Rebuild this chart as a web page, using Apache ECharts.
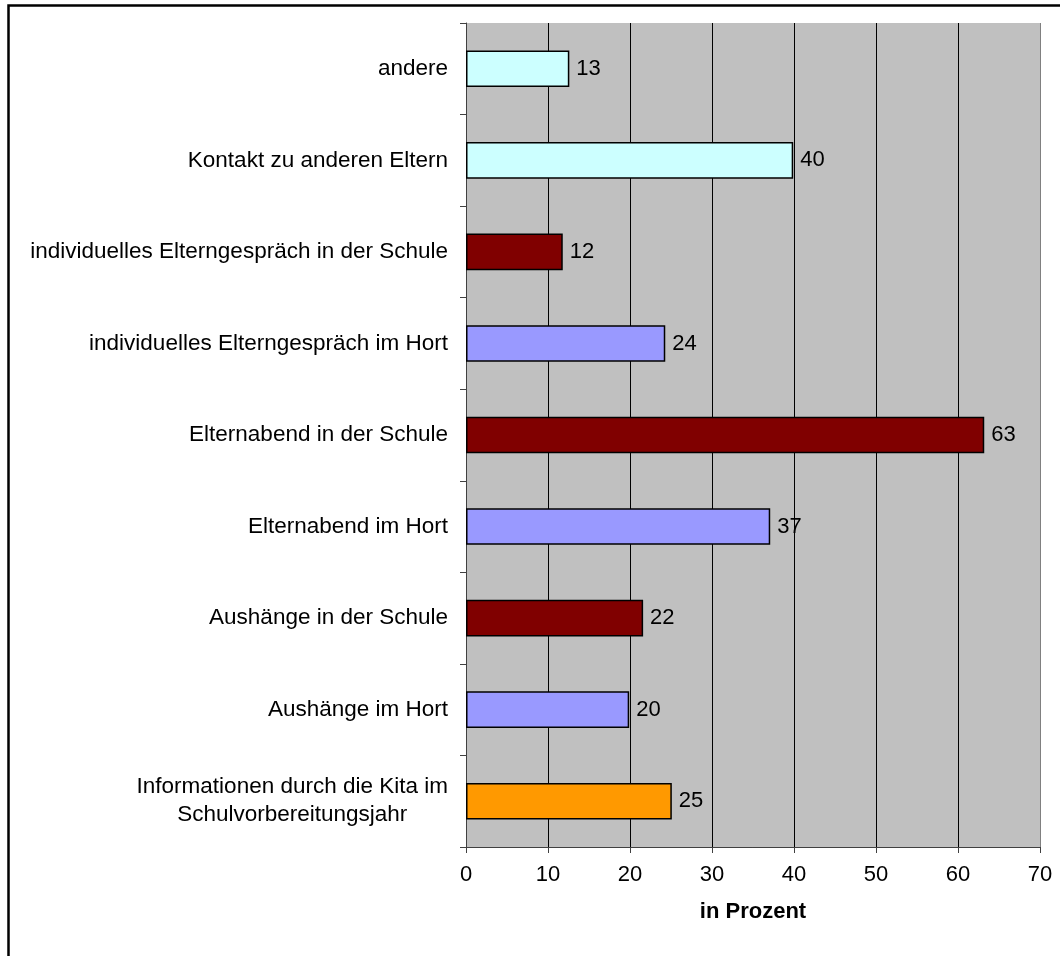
<!DOCTYPE html>
<html>
<head>
<meta charset="utf-8">
<script src="https://cdn.jsdelivr.net/npm/echarts@6/dist/echarts.min.js"></script>
<style>
  html, body { margin: 0; padding: 0; background: #fff; }
  #main { width: 1060px; height: 956px; }
</style>
</head>
<body>
<div id="main"></div>
<script>
// Kategorien von oben nach unten
var categories = [
    'andere',
    'Kontakt zu anderen Eltern',
    'individuelles Elterngespräch in der Schule',
    'individuelles Elterngespräch im Hort',
    'Elternabend in der Schule',
    'Elternabend im Hort',
    'Aushänge in der Schule',
    'Aushänge im Hort',
    'Informationen durch die Kita im\nSchulvorbereitungsjahr'
];
// Balkenlängen, Beschriftung gerundet
var values = [12.6, 39.9, 11.8, 24.3, 63.2, 37.1, 21.6, 19.9, 25.1];
var barColors = ['#ccffff', '#ccffff', '#800000', '#9999ff', '#800000', '#9999ff', '#800000', '#9999ff', '#ff9900'];
var xTicks = [0, 10, 20, 30, 40, 50, 60, 70];

var chart = echarts.init(document.getElementById('main'));

var data = values.map(function (v, i) {
    return { value: v, itemStyle: { color: barColors[i] } };
});

// Gitterlinien schwarz, letzte (rechter Rand) grau
var gridColors = xTicks.map(function (t, i) {
    return i == xTicks.length - 1 ? '#808080' : '#000';
});

var option = {
    animation: false,
    textStyle: { fontFamily: 'Liberation Sans, Arial, sans-serif' },
    graphic: [{
        type: 'rect',
        shape: { x: 8.5, y: 5.5, width: 1100, height: 1000 },
        style: { fill: 'none', stroke: '#000', lineWidth: 2.5 },
        z: 100
    }],
    grid: {
        left: 466,
        right: 20,
        top: 23,
        bottom: 109,
        show: true,
        backgroundColor: '#c0c0c0',
        borderWidth: 0
    },
    xAxis: {
        type: 'value',
        min: xTicks[0],
        max: xTicks[xTicks.length - 1],
        interval: 10,
        name: 'in Prozent',
        nameLocation: 'middle',
        nameGap: 54,
        nameTextStyle: { fontSize: 22, fontWeight: 'bold', color: '#000' },
        axisLine: { show: true, lineStyle: { color: '#404040', width: 1 } },
        axisTick: { show: true, length: 6, lineStyle: { color: '#404040' } },
        axisLabel: { fontSize: 22, color: '#000', margin: 17 },
        splitLine: { show: true, lineStyle: { color: gridColors, width: 1 } }
    },
    yAxis: {
        type: 'category',
        inverse: true,
        data: categories,
        axisLine: { show: true, lineStyle: { color: '#404040', width: 1 } },
        axisTick: { show: true, length: 6, alignWithLabel: false, lineStyle: { color: '#404040' } },
        axisLabel: {
            fontSize: 22.5,
            color: '#000',
            margin: 18,
            lineHeight: 28,
            formatter: function (val) {
                return '{c|' + val + '}';
            },
            rich: {
                c: { fontSize: 22.5, color: '#000', align: 'center', lineHeight: 28 }
            }
        }
    },
    series: [{
        type: 'bar',
        data: data,
        barCategoryGap: '60%',
        itemStyle: { borderColor: '#000', borderWidth: 1.5 },
        label: {
            show: true,
            position: 'right',
            distance: 7,
            fontSize: 22,
            color: '#000',
            formatter: function (p) {
                return Math.round(p.value);
            }
        }
    }]
};

chart.setOption(option);
</script>
</body>
</html>
